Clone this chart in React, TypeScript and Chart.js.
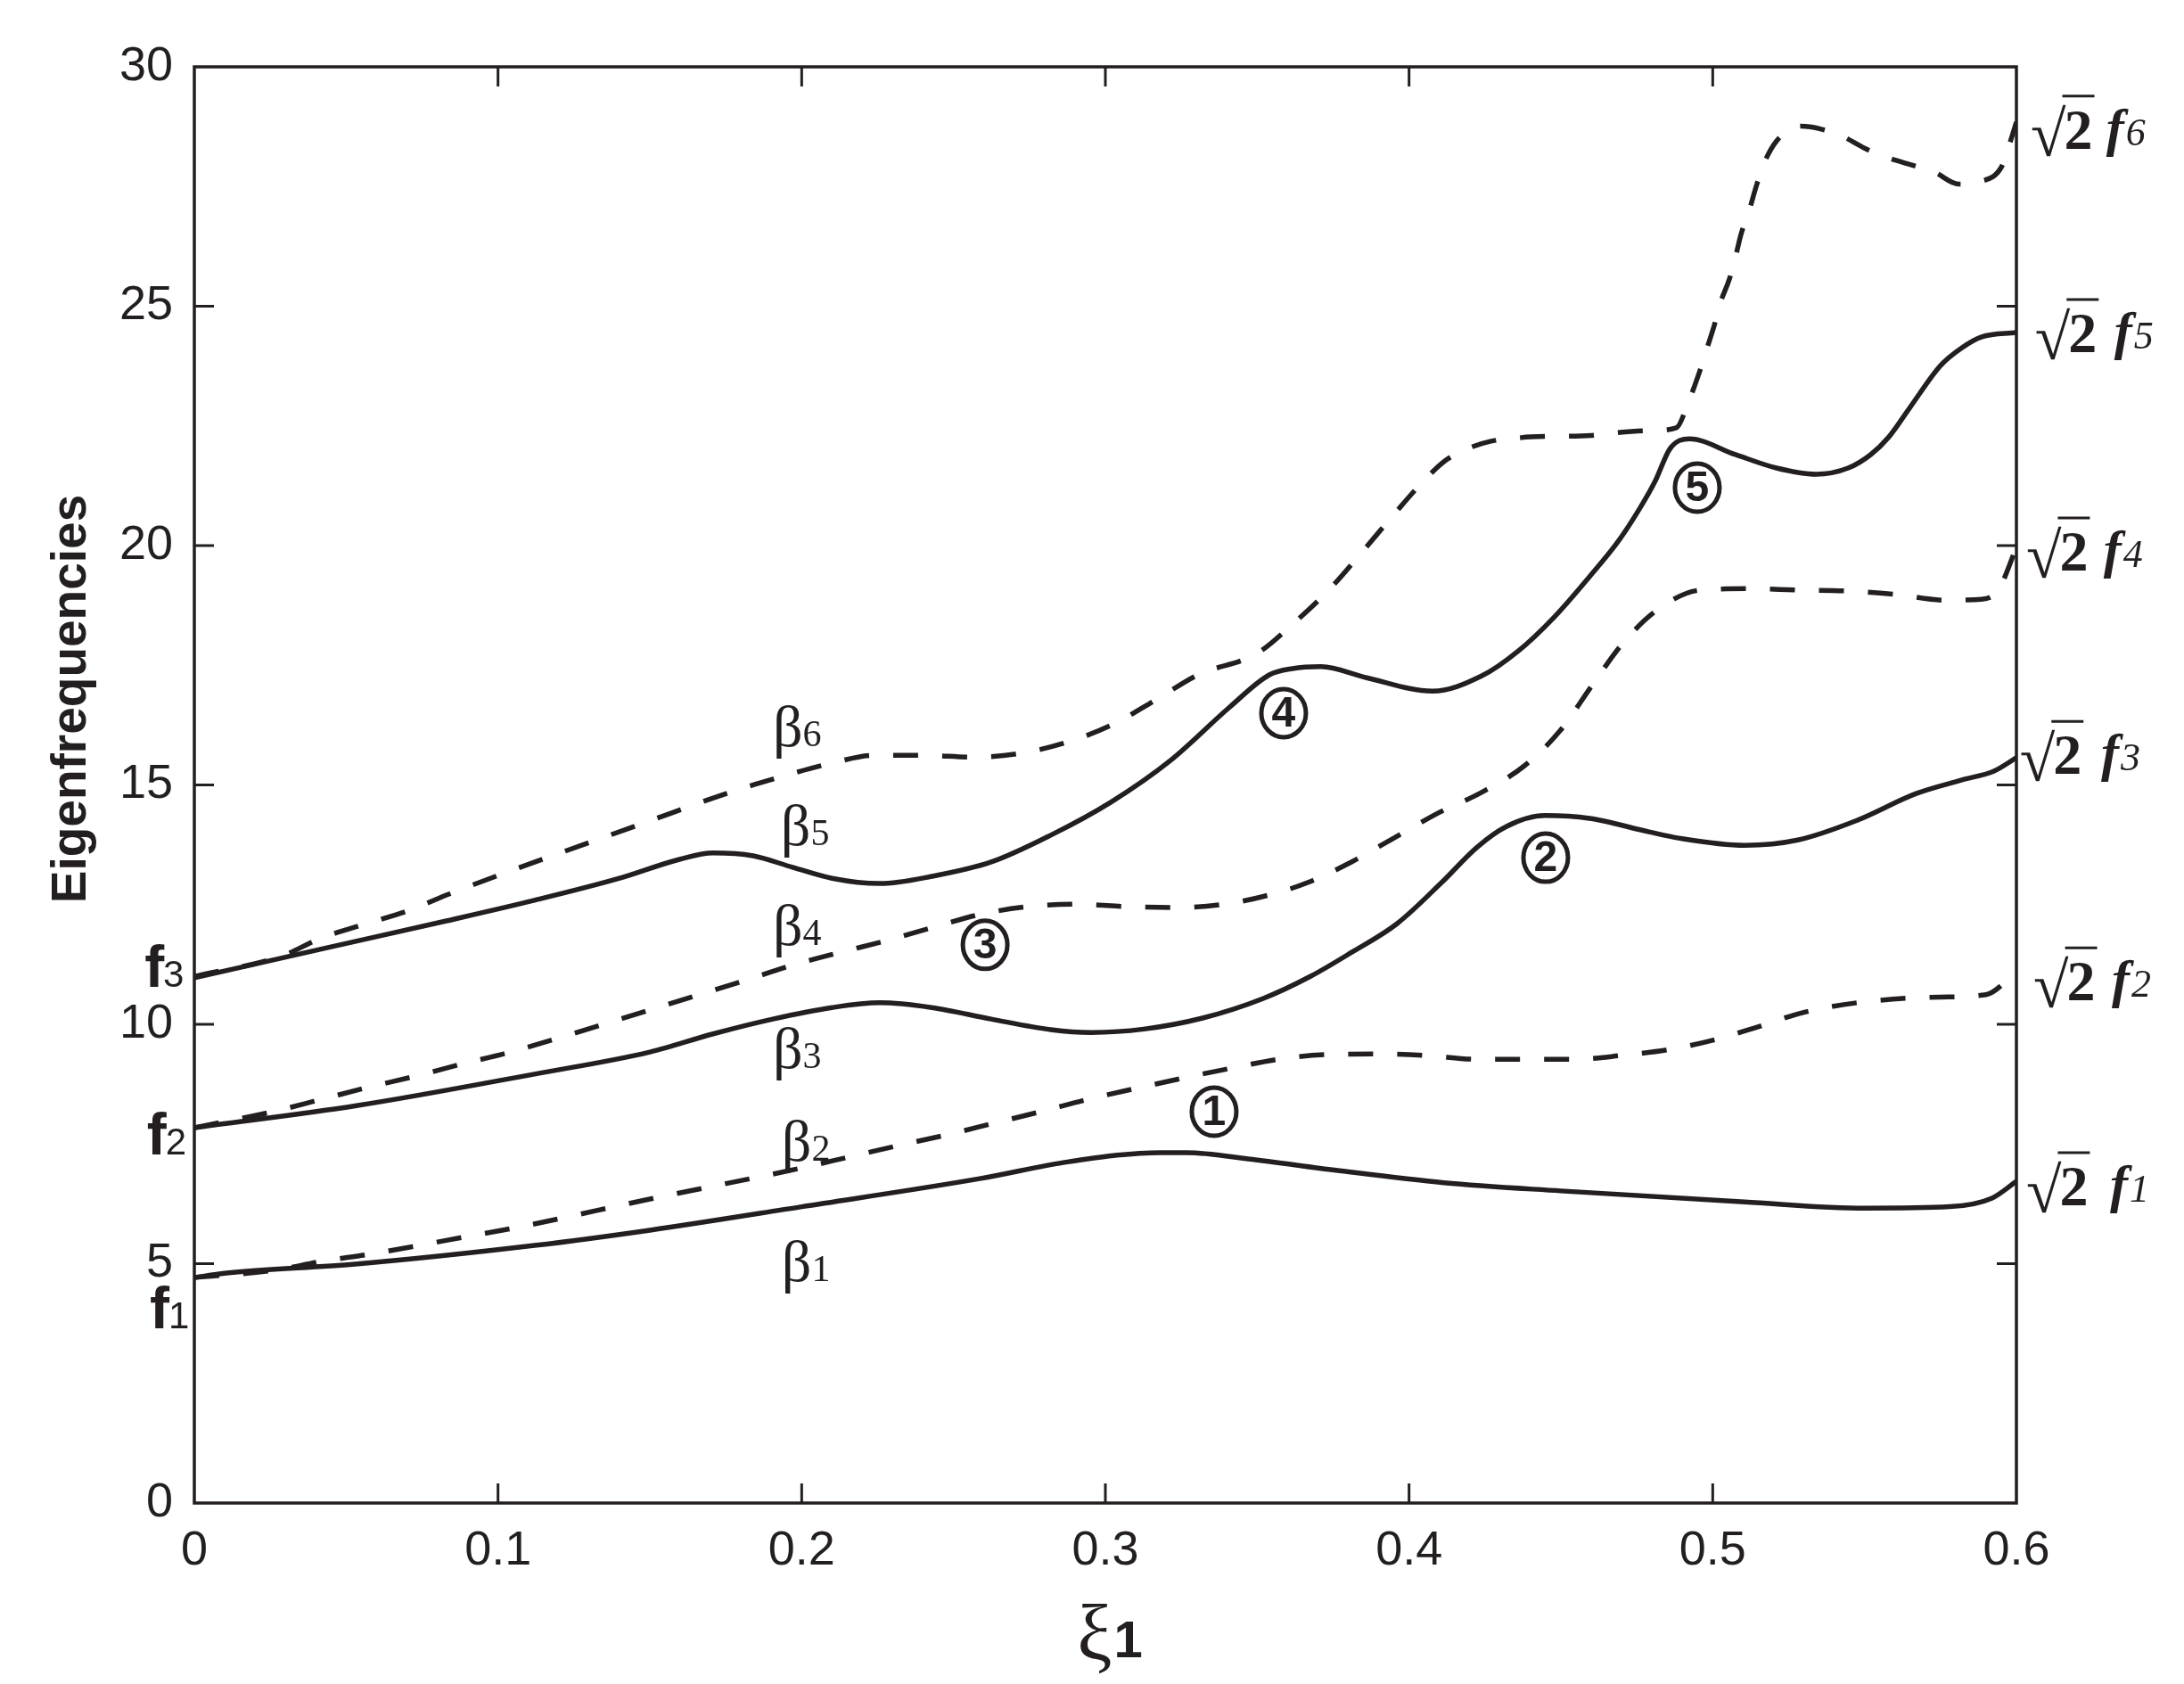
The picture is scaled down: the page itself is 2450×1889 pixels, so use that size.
import React, { useEffect, useRef } from "react";
import { Chart, registerables } from "chart.js";

Chart.register(...registerables);

const INK = "#231f20";
const SANS = '"Liberation Sans", Arial, sans-serif';
const SERIF = '"Liberation Serif", "Times New Roman", serif';

// ---- data (ξ1 positions and eigenfrequency values) ----
const beta1Xi = [0, 0.01, 0.053, 0.112, 0.15, 0.2, 0.259, 0.288, 0.318, 0.327, 0.347, 0.376, 0.4115, 0.45, 0.5105, 0.55, 0.578, 0.592, 0.6];
const beta1Val = [4.71, 4.8, 4.99, 5.38, 5.7, 6.19, 6.78, 7.13, 7.32, 7.32, 7.19, 6.95, 6.69, 6.52, 6.29, 6.16, 6.19, 6.37, 6.72];

const beta2Xi = [0, 0.026, 0.042, 0.058, 0.074, 0.09, 0.1057, 0.15, 0.2, 0.215, 0.232, 0.2477, 0.263, 0.279, 0.2947, 0.31, 0.3258, 0.342, 0.358, 0.374, 0.39, 0.4057, 0.4224, 0.438, 0.4547, 0.47, 0.4864, 0.502, 0.514, 0.53, 0.55, 0.575, 0.59, 0.6];
const beta2Val = [4.71, 4.86, 5.05, 5.2, 5.38, 5.57, 5.75, 6.35, 7.0, 7.22, 7.47, 7.69, 7.93, 8.18, 8.44, 8.66, 8.88, 9.09, 9.28, 9.37, 9.38, 9.35, 9.27, 9.27, 9.27, 9.35, 9.48, 9.7, 9.93, 10.25, 10.47, 10.57, 10.62, 11.1];

const beta3Xi = [0, 0.0534, 0.112, 0.15, 0.1708, 0.1905, 0.21, 0.2257, 0.2428, 0.2624, 0.282, 0.2953, 0.3126, 0.332, 0.352, 0.3675, 0.381, 0.396, 0.4107, 0.4224, 0.432, 0.4447, 0.4594, 0.479, 0.4888, 0.5105, 0.528, 0.5475, 0.567, 0.5818, 0.5926, 0.6];
const beta3Val = [7.84, 8.3, 8.96, 9.42, 9.8, 10.11, 10.35, 10.45, 10.35, 10.11, 9.89, 9.83, 9.9, 10.13, 10.54, 11.0, 11.5, 12.1, 12.96, 13.7, 14.13, 14.36, 14.3, 14.02, 13.89, 13.74, 13.85, 14.26, 14.82, 15.1, 15.29, 15.57];

const beta4Xi = [0, 0.0255, 0.0417, 0.057, 0.073, 0.0887, 0.104, 0.15, 0.181, 0.1967, 0.2125, 0.228, 0.2436, 0.259, 0.2748, 0.291, 0.307, 0.323, 0.3393, 0.355, 0.3666, 0.381, 0.395, 0.4095, 0.424, 0.438, 0.4497, 0.4605, 0.47, 0.4814, 0.4958, 0.5122, 0.528, 0.5445, 0.56, 0.5765, 0.5885, 0.594, 0.5985, 0.6];
const beta4Val = [7.84, 8.17, 8.43, 8.68, 8.92, 9.18, 9.42, 10.3, 10.91, 11.23, 11.5, 11.75, 12.03, 12.3, 12.46, 12.51, 12.46, 12.44, 12.51, 12.72, 12.96, 13.39, 13.89, 14.41, 14.85, 15.4, 16.13, 17.1, 17.93, 18.64, 19.07, 19.1, 19.07, 19.05, 18.98, 18.86, 18.88, 19.07, 19.72, 20.0];

const beta5Xi = [0, 0.0437, 0.083, 0.112, 0.14, 0.16, 0.1708, 0.184, 0.197, 0.21, 0.2257, 0.2428, 0.2624, 0.282, 0.3018, 0.3214, 0.341, 0.354, 0.3616, 0.371, 0.386, 0.4077, 0.424, 0.436, 0.4477, 0.4594, 0.469, 0.476, 0.481, 0.486, 0.4923, 0.5075, 0.521, 0.534, 0.5446, 0.552, 0.558, 0.565, 0.575, 0.582, 0.5886, 0.6];
const beta5Val = [10.97, 11.6, 12.16, 12.59, 13.05, 13.45, 13.58, 13.52, 13.28, 13.05, 12.94, 13.09, 13.39, 13.95, 14.64, 15.51, 16.63, 17.3, 17.43, 17.47, 17.24, 16.96, 17.28, 17.8, 18.5, 19.35, 20.1, 20.78, 21.34, 22.03, 22.23, 21.9, 21.62, 21.49, 21.62, 21.9, 22.27, 22.89, 23.76, 24.13, 24.36, 24.45];

const beta6Xi = [0, 0.029, 0.041, 0.056, 0.0716, 0.083, 0.15, 0.177, 0.1926, 0.209, 0.224, 0.24, 0.2566, 0.272, 0.2877, 0.302, 0.3167, 0.3305, 0.35, 0.3617, 0.374, 0.385, 0.395, 0.406, 0.4125, 0.4195, 0.427, 0.435, 0.44, 0.46, 0.467, 0.479, 0.488, 0.492, 0.4955, 0.498, 0.5005, 0.5025, 0.5055, 0.5075, 0.5093, 0.512, 0.5143, 0.517, 0.521, 0.527, 0.529, 0.5357, 0.5427, 0.55, 0.5577, 0.5656, 0.573, 0.581, 0.5877, 0.595, 0.5973, 0.6];
const beta6Val = [11.0, 11.43, 11.78, 12.09, 12.4, 12.7, 14.25, 14.86, 15.16, 15.44, 15.62, 15.62, 15.58, 15.66, 15.9, 16.25, 16.78, 17.3, 17.75, 18.36, 19.1, 19.9, 20.65, 21.43, 21.8, 22.03, 22.18, 22.24, 22.27, 22.3, 22.35, 22.4, 22.46, 23.0, 23.6, 24.1, 24.6, 25.07, 25.57, 26.03, 26.5, 27.0, 27.5, 28.0, 28.45, 28.73, 28.76, 28.7, 28.55, 28.3, 28.1, 27.95, 27.8, 27.55, 27.6, 27.9, 28.3, 28.85];

const seriesXi = [beta1Xi, beta2Xi, beta3Xi, beta4Xi, beta5Xi, beta6Xi];
const seriesVal = [beta1Val, beta2Val, beta3Val, beta4Val, beta5Val, beta6Val];
const seriesNames = ["β1", "β2", "β3", "β4", "β5", "β6"];
const seriesDashed = [false, true, false, true, false, true];

const xTicks = [0, 0.1, 0.2, 0.3, 0.4, 0.5, 0.6];
const yTicks = [0, 5, 10, 15, 20, 25, 30];

const xTitle = "ξ";
const xTitleSub = "1";
const yTitle = "Eigenfrequencies";

// curve labels β_i (anchor: left edge, baseline) in data units
const curveLabelSub = ["1", "2", "3", "4", "5", "6"];
const curveLabelXi = [0.1934, 0.1934, 0.1905, 0.1905, 0.1931, 0.1905];
const curveLabelVal = [4.64, 7.15, 9.09, 11.66, 13.74, 15.81];

// f_i labels at left axis
const leftLabelSub = ["1", "2", "3"];
const leftLabelXi = [-0.0147, -0.0156, -0.0164];
const leftLabelVal = [3.65, 7.28, 10.78];

// √2 f_i labels at right axis
const rightLabelSub = ["1", "2", "3", "4", "5", "6"];
const rightSqrtXi = [0.6032, 0.6056, 0.6011, 0.6032, 0.6061, 0.6047];
const rightFXi = [0.6308, 0.6314, 0.6279, 0.6287, 0.6322, 0.6296];
const rightLabelVal = [6.22, 10.5, 15.23, 19.48, 24.04, 28.29];

// circled numbers
const circleNum = ["1", "2", "3", "4", "5"];
const circleXi = [0.3358, 0.445, 0.2604, 0.3587, 0.4949];
const circleVal = [8.175, 13.48, 11.66, 16.5, 21.21];

const annotationPlugin = {
  id: "figureDecor",
  afterDraw(chart: any) {
    const ctx = chart.ctx as CanvasRenderingContext2D;
    const { left, right, top, bottom } = chart.chartArea;
    const xs = chart.scales.x;
    const ys = chart.scales.y;
    ctx.save();
    ctx.strokeStyle = INK;
    ctx.fillStyle = INK;

    // frame
    ctx.lineWidth = 3.5;
    ctx.strokeRect(left, top, right - left, bottom - top);

    // inward ticks
    const tl = 22;
    ctx.lineWidth = 3;
    ctx.beginPath();
    yTicks.forEach((v) => {
      if (v === yTicks[0] || v === yTicks[yTicks.length - 1]) return;
      const py = ys.getPixelForValue(v);
      ctx.moveTo(left, py);
      ctx.lineTo(left + tl, py);
      ctx.moveTo(right, py);
      ctx.lineTo(right - tl, py);
    });
    xTicks.forEach((v) => {
      if (v === xTicks[0] || v === xTicks[xTicks.length - 1]) return;
      const px = xs.getPixelForValue(v);
      ctx.moveTo(px, bottom);
      ctx.lineTo(px, bottom - tl);
      ctx.moveTo(px, top);
      ctx.lineTo(px, top + tl);
    });
    ctx.stroke();

    ctx.textAlign = "left";
    ctx.textBaseline = "alphabetic";

    // β labels
    curveLabelSub.forEach((s, i) => {
      const px = xs.getPixelForValue(curveLabelXi[i]);
      const py = ys.getPixelForValue(curveLabelVal[i]);
      ctx.font = `66px ${SERIF}`;
      ctx.fillText("β", px, py);
      const w = ctx.measureText("β").width;
      ctx.font = `42px ${SERIF}`;
      ctx.fillText(s, px + w, py);
    });

    // f labels at left
    leftLabelSub.forEach((s, i) => {
      const px = xs.getPixelForValue(leftLabelXi[i]);
      const py = ys.getPixelForValue(leftLabelVal[i]);
      ctx.font = `bold 66px ${SANS}`;
      ctx.fillText("f", px, py);
      const w = ctx.measureText("f").width;
      ctx.font = `42px ${SANS}`;
      ctx.fillText(s, px + w - 1, py);
    });

    // √2 f labels at right
    rightLabelSub.forEach((s, i) => {
      const px = xs.getPixelForValue(rightSqrtXi[i]);
      const pf = xs.getPixelForValue(rightFXi[i]);
      const py = ys.getPixelForValue(rightLabelVal[i]);
      ctx.font = `72px ${SERIF}`;
      ctx.fillText("√", px, py + 8);
      const w = ctx.measureText("√").width;
      ctx.font = `bold 64px ${SERIF}`;
      const x2 = px + w - 2;
      ctx.fillText("2", x2, py);
      const w2 = ctx.measureText("2").width;
      ctx.lineWidth = 3;
      ctx.beginPath();
      ctx.moveTo(px + w - 4, py - 59);
      ctx.lineTo(x2 + w2 + 2, py - 59);
      ctx.stroke();
      ctx.font = `italic bold 60px ${SERIF}`;
      ctx.fillText("f", pf, py - 4);
      const wf = ctx.measureText("f").width;
      ctx.font = `italic 44px ${SERIF}`;
      ctx.fillText(s, pf + wf + 2, py - 4);
    });

    // circled numbers
    circleNum.forEach((n, i) => {
      const cx = xs.getPixelForValue(circleXi[i]);
      const cy = ys.getPixelForValue(circleVal[i]);
      ctx.lineWidth = 5;
      ctx.beginPath();
      ctx.ellipse(cx, cy, 25, 27, 0, 0, Math.PI * 2);
      ctx.stroke();
      ctx.font = `bold 48px ${SANS}`;
      ctx.textAlign = "center";
      ctx.textBaseline = "middle";
      ctx.fillText(n, cx, cy + 2);
      ctx.textAlign = "left";
      ctx.textBaseline = "alphabetic";
    });

    // x title
    const xc = (left + right) / 2;
    ctx.font = `88px ${SERIF}`;
    const wXi = ctx.measureText(xTitle).width;
    ctx.font = `bold 58px ${SANS}`;
    const wSub = ctx.measureText(xTitleSub).width;
    const startX = xc - (wXi + wSub) / 2 + 4;
    ctx.font = `88px ${SERIF}`;
    ctx.fillText(xTitle, startX, 1862);
    ctx.font = `bold 58px ${SANS}`;
    ctx.fillText(xTitleSub, startX + wXi + 2, 1859);

    // y title
    ctx.save();
    ctx.translate(96, 784);
    ctx.rotate(-Math.PI / 2);
    ctx.font = `bold 55px ${SANS}`;
    ctx.textAlign = "center";
    ctx.fillText(yTitle, 0, 0);
    ctx.restore();

    ctx.restore();
  },
};

export default function App() {
  const canvasRef = useRef<HTMLCanvasElement | null>(null);

  useEffect(() => {
    const canvas = canvasRef.current;
    if (!canvas) return;
    const datasets = seriesXi.map((xi, k) => ({
      label: seriesNames[k],
      data: xi.map((x, i) => ({ x, y: seriesVal[k][i] })),
      borderColor: INK,
      backgroundColor: INK,
      borderWidth: 5.5,
      borderDash: seriesDashed[k] ? [28, 27] : [],
      pointRadius: 0,
      fill: false,
      cubicInterpolationMode: "monotone" as const,
    }));

    const chart = new Chart(canvas, {
      type: "line",
      data: { datasets },
      plugins: [annotationPlugin],
      options: {
        responsive: false,
        maintainAspectRatio: false,
        animation: false,
        devicePixelRatio: 1,
        layout: { padding: { top: 75, right: 188, left: 0, bottom: 0 } },
        plugins: { legend: { display: false }, tooltip: { enabled: false } },
        scales: {
          x: {
            type: "linear",
            min: xTicks[0],
            max: xTicks[xTicks.length - 1],
            grid: { display: false },
            border: { display: false },
            afterFit: (s: any) => {
              s.height = 203;
            },
            afterBuildTicks: (s: any) => {
              s.ticks = xTicks.map((v) => ({ value: v }));
            },
            ticks: {
              autoSkip: false,
              maxRotation: 0,
              padding: 14,
              color: INK,
              font: { family: SANS, size: 54 },
              callback: (v: any) => String(Number(Number(v).toFixed(1))),
            },
          },
          y: {
            type: "linear",
            min: yTicks[0],
            max: yTicks[yTicks.length - 1],
            grid: { display: false },
            border: { display: false },
            afterFit: (s: any) => {
              s.width = 218;
            },
            afterBuildTicks: (s: any) => {
              s.ticks = yTicks.map((v) => ({ value: v }));
            },
            ticks: {
              autoSkip: false,
              padding: 16,
              color: INK,
              font: { family: SANS, size: 54 },
              callback: (v: any) => String(v),
            },
          },
        },
      },
    });
    return () => chart.destroy();
  }, []);

  return (
    <div style={{ position: "absolute", left: 0, top: 0, width: 2450, height: 1889, background: "#fff" }}>
      <canvas ref={canvasRef} width={2450} height={1889} style={{ width: 2450, height: 1889, display: "block" }} />
    </div>
  );
}
